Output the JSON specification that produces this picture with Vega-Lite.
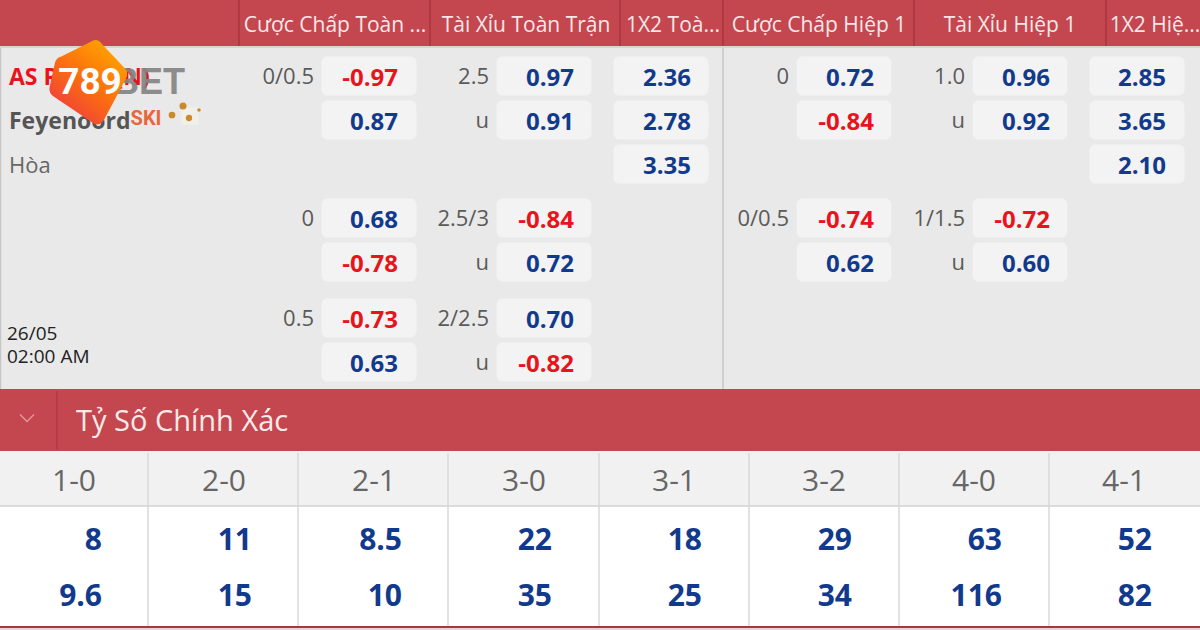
{"$schema":"https://vega.github.io/schema/vega-lite/v6.json","width":1200,"height":630,"padding":0,"autosize":{"type":"none"},"background":"#ffffff","config":{"view":{"stroke":null},"text":{"font":"Open Sans"},"locale":{"number":{"decimal":".","thousands":",","grouping":[3],"currency":["",""],"minus":"-"}}},"resolve":{"scale":{"x":"independent","y":"independent","color":"independent"}},
"datasets":{
"bands":[{"band":"Tiêu đề","from":0,"to":1},{"band":"Viền tiêu đề","from":1,"to":2},{"band":"Kèo","from":2,"to":3},{"band":"Mục","from":3,"to":4},{"band":"Tỷ số","from":4,"to":5},{"band":"Viền tỷ số","from":5,"to":6},{"band":"Giá tỷ số","from":6,"to":7},{"band":"Đáy","from":7,"to":8},{"band":"Đáy nhạt","from":8,"to":9}],
"dividers":[{"line":1,"kind":"head","from":0,"to":1},{"line":2,"kind":"head","from":0,"to":1},{"line":3,"kind":"head","from":0,"to":1},{"line":4,"kind":"head","from":0,"to":1},{"line":5,"kind":"head","from":0,"to":1},{"line":6,"kind":"head","from":0,"to":1},{"line":4,"kind":"body","from":2,"to":3},{"line":0,"kind":"body","from":2,"to":3},{"line":7,"kind":"section","from":4,"to":5},{"line":8,"kind":"score","from":6,"to":7},{"line":9,"kind":"score","from":6,"to":7},{"line":10,"kind":"score","from":6,"to":7},{"line":11,"kind":"score","from":6,"to":7},{"line":12,"kind":"score","from":6,"to":7},{"line":13,"kind":"score","from":6,"to":7},{"line":14,"kind":"score","from":6,"to":7}],
"headers":[{"col":1,"market":"Cược Chấp Toàn ..."},{"col":2,"market":"Tài Xỉu Toàn Trận"},{"col":3,"market":"1X2 Toà..."},{"col":4,"market":"Cược Chấp Hiệp 1"},{"col":5,"market":"Tài Xỉu Hiệp 1"},{"col":6,"market":"1X2 Hiệ..."}],
"odds":[{"col":1,"row":1,"odds":-0.97},{"col":1,"row":2,"odds":0.87},{"col":1,"row":4,"odds":0.68},{"col":1,"row":5,"odds":-0.78},{"col":1,"row":6,"odds":-0.73},{"col":1,"row":7,"odds":0.63},{"col":2,"row":1,"odds":0.97},{"col":2,"row":2,"odds":0.91},{"col":2,"row":4,"odds":-0.84},{"col":2,"row":5,"odds":0.72},{"col":2,"row":6,"odds":0.70},{"col":2,"row":7,"odds":-0.82},{"col":3,"row":1,"odds":2.36},{"col":3,"row":2,"odds":2.78},{"col":3,"row":3,"odds":3.35},{"col":4,"row":1,"odds":0.72},{"col":4,"row":2,"odds":-0.84},{"col":4,"row":4,"odds":-0.74},{"col":4,"row":5,"odds":0.62},{"col":5,"row":1,"odds":0.96},{"col":5,"row":2,"odds":0.92},{"col":5,"row":4,"odds":-0.72},{"col":5,"row":5,"odds":0.60},{"col":6,"row":1,"odds":2.85},{"col":6,"row":2,"odds":3.65},{"col":6,"row":3,"odds":2.10}],
"lines":[{"col":1,"row":1,"line":"0/0.5"},{"col":1,"row":4,"line":"0"},{"col":1,"row":6,"line":"0.5"},{"col":2,"row":1,"line":"2.5"},{"col":2,"row":2,"line":"u"},{"col":2,"row":4,"line":"2.5/3"},{"col":2,"row":5,"line":"u"},{"col":2,"row":6,"line":"2/2.5"},{"col":2,"row":7,"line":"u"},{"col":4,"row":1,"line":"0"},{"col":4,"row":4,"line":"0/0.5"},{"col":5,"row":1,"line":"1.0"},{"col":5,"row":2,"line":"u"},{"col":5,"row":4,"line":"1/1.5"},{"col":5,"row":5,"line":"u"}],
"teams":[{"row":1,"team":"AS Roma (N)","kind":"home"},{"row":2,"team":"Feyenoord","kind":"away"}],
"draw":[{"label":"Hòa"}],
"kickoff":[{"row":1,"text":"26/05"},{"row":2,"text":"02:00 AM"}],
"section":[{"title":"Tỷ Số Chính Xác"}],
"scores":[{"score":"1-0","side":"Trên","price":"8"},{"score":"1-0","side":"Dưới","price":"9.6"},{"score":"2-0","side":"Trên","price":"11"},{"score":"2-0","side":"Dưới","price":"15"},{"score":"2-1","side":"Trên","price":"8.5"},{"score":"2-1","side":"Dưới","price":"10"},{"score":"3-0","side":"Trên","price":"22"},{"score":"3-0","side":"Dưới","price":"35"},{"score":"3-1","side":"Trên","price":"18"},{"score":"3-1","side":"Dưới","price":"25"},{"score":"3-2","side":"Trên","price":"29"},{"score":"3-2","side":"Dưới","price":"34"},{"score":"4-0","side":"Trên","price":"63"},{"score":"4-0","side":"Dưới","price":"116"},{"score":"4-1","side":"Trên","price":"52"},{"score":"4-1","side":"Dưới","price":"82"}],
"brandNum":[{"text":"789"}],
"brandSki":[{"text":"SKI"}],
"brandBack":[{"text":"BET"}],
"brandMark":[{"name":"789BET"}],
"sparkle":[{"n":1,"size":300,"tone":"white"},{"n":2,"size":45,"tone":"gold"},{"n":3,"size":50,"tone":"gold"},{"n":4,"size":40,"tone":"gold"},{"n":5,"size":12,"tone":"gold"}]
},
"layer":[
{"data":{"name":"bands"},"mark":{"type":"rect"},"encoding":{"y":{"field":"from","type":"quantitative","axis":null,"scale":{"domain":[0,1,2,3,4,5,6,7,8,9],"range":[0,46,48,389,451,505,507,626,628,630],"zero":false,"nice":false}},"y2":{"field":"to"},"color":{"field":"band","type":"nominal","legend":null,"scale":{"domain":["Tiêu đề","Viền tiêu đề","Kèo","Mục","Tỷ số","Viền tỷ số","Giá tỷ số","Đáy","Đáy nhạt"],"range":["#c4464f","#d9d5d5","#e9e9e9","#c4464f","#f1f1f1","#dcdcdc","#ffffff","#a5383f","#e6d5d5"]}}}},
{"data":{"name":"dividers"},"mark":{"type":"rule","strokeWidth":1.5},"encoding":{"x":{"field":"line","type":"quantitative","axis":null,"scale":{"domain":[0,1,2,3,4,5,6,7,8,9,10,11,12,13,14],"range":[0.5,239,430,620,723,914,1106,57,148,298,448,599,749,899,1049],"zero":false,"nice":false}},"y":{"field":"from","type":"quantitative","axis":null,"scale":{"domain":[0,1,2,3,4,5,6,7],"range":[0,46,48,389,391,450,453,626],"zero":false,"nice":false}},"y2":{"field":"to"},"color":{"field":"kind","type":"nominal","legend":null,"scale":{"domain":["head","body","section","score"],"range":["#a8353f","#c6c6c6","#b23a44","#d9d9d9"]}}}},
{"data":{"name":"headers"},"mark":{"type":"text","fontSize":21,"baseline":"middle","align":"center","fill":"#f8e8e8"},"encoding":{"x":{"field":"col","type":"quantitative","axis":null,"scale":{"domain":[1,2,3,4,5,6],"range":[335,526,673,819,1010,1155],"zero":false,"nice":false}},"y":{"value":26},"text":{"field":"market"}}},
{"data":{"name":"odds"},"mark":{"type":"rect","width":95,"height":39,"cornerRadius":6,"fill":"#f3f3f3"},"encoding":{"x":{"field":"col","type":"quantitative","axis":null,"scale":{"domain":[1,2,3,4,5,6],"range":[369,544,661,844,1020,1137],"zero":false,"nice":false}},"y":{"field":"row","type":"quantitative","axis":null,"scale":{"domain":[1,2,3,4,5,6,7],"range":[76,120,164,218,262,318,362],"zero":false,"nice":false}}}},
{"data":{"name":"odds"},"mark":{"type":"text","fontSize":24,"fontWeight":700,"baseline":"middle","align":"right"},"encoding":{"x":{"field":"col","type":"quantitative","axis":null,"scale":{"domain":[1,2,3,4,5,6],"range":[398,574,691,874,1050,1166],"zero":false,"nice":false}},"y":{"field":"row","type":"quantitative","axis":null,"scale":{"domain":[1,2,3,4,5,6,7],"range":[78.5,122.5,166.5,220.5,264.5,320.5,364.5],"zero":false,"nice":false}},"text":{"field":"odds","type":"quantitative","format":".2f"},"color":{"condition":{"test":"datum.odds<0","value":"#e8141c"},"value":"#123a8c"}}},
{"data":{"name":"lines"},"mark":{"type":"text","fontSize":22,"baseline":"middle","align":"right","fill":"#5a5a5a"},"encoding":{"x":{"field":"col","type":"quantitative","axis":null,"scale":{"domain":[1,2,3,4,5,6],"range":[314,489,640,789,965,1090],"zero":false,"nice":false}},"y":{"field":"row","type":"quantitative","axis":null,"scale":{"domain":[1,2,3,4,5,6,7],"range":[77,121,165,219,263,319,363],"zero":false,"nice":false}},"text":{"field":"line"}}},
{"data":{"name":"teams"},"mark":{"type":"text","fontSize":23,"fontWeight":700,"baseline":"middle","align":"left"},"encoding":{"x":{"value":9},"y":{"field":"row","type":"quantitative","axis":null,"scale":{"domain":[1,2],"range":[78,122],"zero":false,"nice":false}},"text":{"field":"team"},"color":{"field":"kind","type":"nominal","legend":null,"scale":{"domain":["home","away"],"range":["#e8141c","#555555"]}}}},
{"data":{"name":"draw"},"mark":{"type":"text","fontSize":22,"baseline":"middle","align":"left","fill":"#666666"},"encoding":{"x":{"value":9},"y":{"value":166},"text":{"field":"label"}}},
{"data":{"name":"kickoff"},"mark":{"type":"text","fontSize":19,"baseline":"middle","align":"left","fill":"#222222"},"encoding":{"x":{"value":7},"y":{"field":"row","type":"quantitative","axis":null,"scale":{"domain":[1,2],"range":[334,357],"zero":false,"nice":false}},"text":{"field":"text"}}},
{"data":{"name":"section"},"mark":{"type":"text","fontSize":29,"baseline":"middle","align":"left","fill":"#fbeae8"},"encoding":{"x":{"value":76},"y":{"value":422},"text":{"field":"title"}}},
{"data":{"name":"section"},"mark":{"type":"point","shape":"M-1,-0.5L0,0.5L1,-0.5","filled":false,"size":196,"strokeWidth":1.5,"stroke":"#f2b9b9"},"encoding":{"x":{"value":27},"y":{"value":418}}},
{"data":{"name":"scores"},"mark":{"type":"text","fontSize":30,"baseline":"middle","align":"center","fill":"#666666"},"transform":[{"filter":"datum.side=='Trên'"}],"encoding":{"x":{"field":"score","type":"nominal","axis":null,"sort":null,"scale":{"type":"point","range":[74,1124],"padding":0}},"y":{"value":482},"text":{"field":"score"}}},
{"data":{"name":"scores"},"mark":{"type":"text","fontSize":30,"fontWeight":700,"baseline":"middle","align":"right","fill":"#123a8c"},"encoding":{"x":{"field":"score","type":"nominal","axis":null,"sort":null,"scale":{"type":"point","range":[102,1152],"padding":0}},"y":{"field":"side","type":"nominal","axis":null,"sort":["Trên","Dưới"],"scale":{"type":"point","range":[541,597],"padding":0}},"text":{"field":"price"}}},
{"data":{"name":"brandBack"},"mark":{"type":"text","font":"Liberation Sans","fontSize":36,"fontWeight":700,"baseline":"middle","align":"right","fill":"#858585","opacity":0.92},"encoding":{"x":{"value":185},"y":{"value":83},"text":{"field":"text"}}},
{"data":{"name":"brandMark"},"mark":{"type":"point","filled":true,"shape":"M0.03,-0.9Q0.156,-0.99 0.27,-0.84L0.78,-0.3Q0.86,-0.2 0.8,-0.08L0.3,0.86Q0.18,1 0.05,0.9L-0.8,0.33Q-0.92,0.24 -0.9,0.12L-0.78,-0.42Q-0.756,-0.533 -0.65,-0.56Z","size":8100,"opacity":1,"fill":{"gradient":"linear","x1":0.8,"y1":0.1,"x2":0.2,"y2":0.9,"stops":[{"offset":0,"color":"#ffa000"},{"offset":0.55,"color":"#fb6a12"},{"offset":1,"color":"#f0403c"}]}},"encoding":{"x":{"value":90},"y":{"value":82}}},
{"data":{"name":"brandNum"},"mark":{"type":"text","font":"Roboto","fontSize":37,"fontWeight":700,"baseline":"middle","align":"center","fill":"#ffffff"},"encoding":{"x":{"value":90},"y":{"value":83},"text":{"field":"text"}}},
{"data":{"name":"brandSki"},"mark":{"type":"text","font":"Roboto","fontSize":20,"fontWeight":700,"baseline":"middle","align":"center","fill":"#e8663c"},"encoding":{"x":{"value":146},"y":{"value":119},"text":{"field":"text"}}},
{"data":{"name":"sparkle"},"mark":{"type":"point","filled":true,"opacity":1},"encoding":{"x":{"field":"n","type":"quantitative","axis":null,"scale":{"domain":[1,2,3,4,5],"range":[190,172,183,189,199],"zero":false,"nice":false}},"y":{"field":"n","type":"quantitative","axis":null,"scale":{"domain":[1,2,3,4,5],"range":[116,115,106,118,110],"zero":false,"nice":false}},"size":{"field":"size","type":"quantitative","legend":null,"scale":{"domain":[10,300],"range":[10,300],"zero":false,"nice":false}},"shape":{"field":"tone","type":"nominal","legend":null,"scale":{"domain":["white","gold"],"range":["square","circle"]}},"color":{"field":"tone","type":"nominal","legend":null,"scale":{"domain":["white","gold"],"range":["#f1efea","#c98a2b"]}}}}
]}
